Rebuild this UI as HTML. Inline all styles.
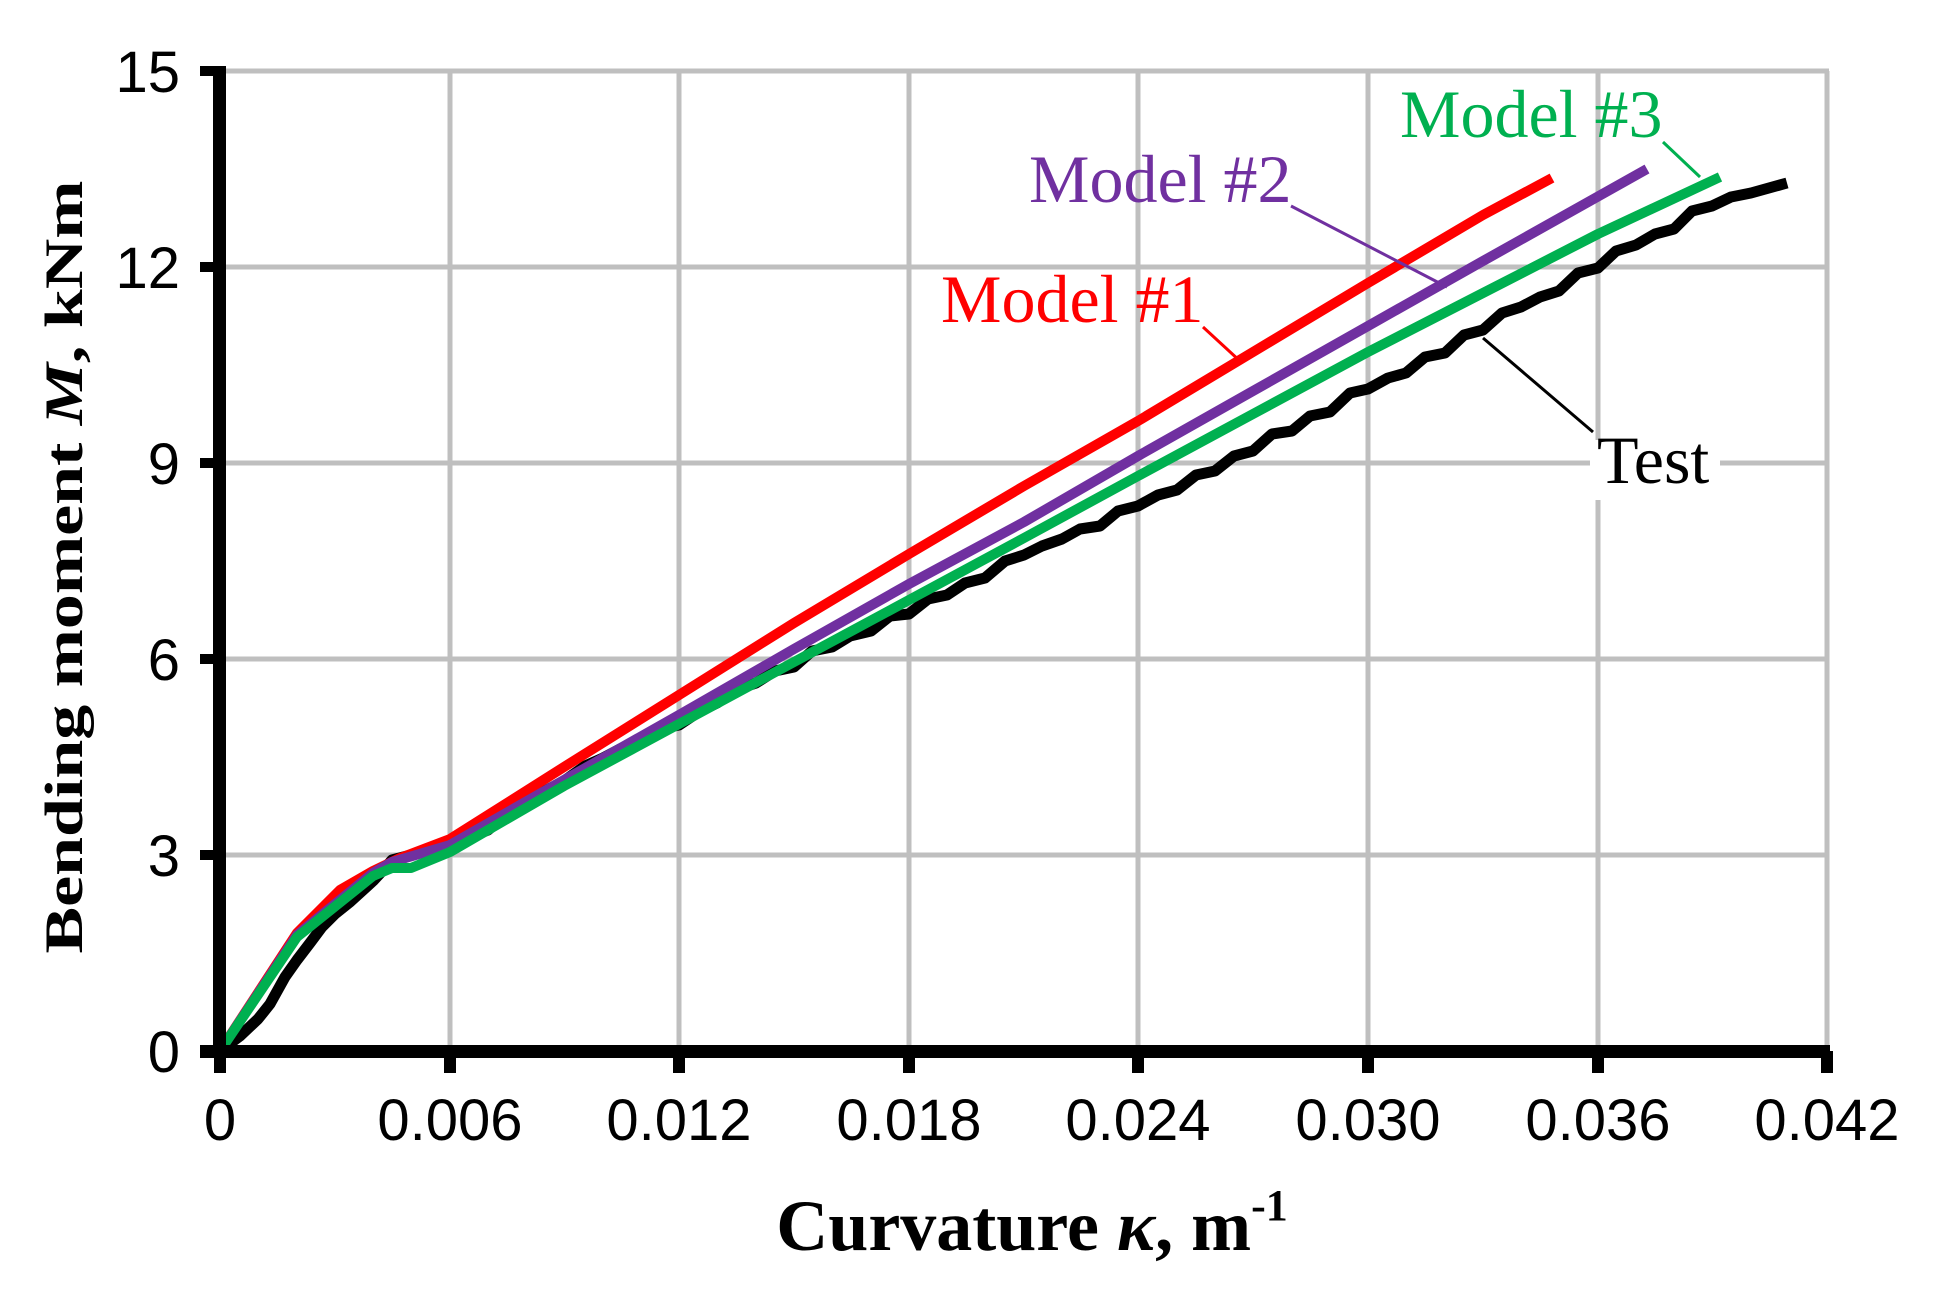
<!DOCTYPE html>
<html><head><meta charset="utf-8"><style>html,body{margin:0;padding:0;background:#fff}</style></head>
<body>
<svg width="1945" height="1289" viewBox="0 0 1945 1289" xmlns="http://www.w3.org/2000/svg">
<rect width="1945" height="1289" fill="#fff"/>
<g stroke="#bfbfbf" stroke-width="5">
<line x1="450" y1="71" x2="450" y2="1051"/><line x1="679" y1="71" x2="679" y2="1051"/>
<line x1="909" y1="71" x2="909" y2="1051"/><line x1="1138" y1="71" x2="1138" y2="1051"/>
<line x1="1368" y1="71" x2="1368" y2="1051"/><line x1="1598" y1="71" x2="1598" y2="1051"/>
<line x1="1827" y1="71" x2="1827" y2="1051"/>
<line x1="220" y1="71" x2="1829" y2="71"/><line x1="220" y1="267" x2="1829" y2="267"/>
<line x1="220" y1="463" x2="1829" y2="463"/><line x1="220" y1="659" x2="1829" y2="659"/>
<line x1="220" y1="855" x2="1829" y2="855"/>
</g>
<rect x="1590" y="440" width="130" height="60" fill="#fff"/>
<g fill="none" stroke-linejoin="round" stroke-linecap="butt">
<polyline stroke="#000" stroke-width="11" points="220,1051 240,1036 258,1019 270,1004 285,977 297,960 310,943 322,927 335,914 350,902 373,881 385,868 392,860 411,855 430,851 450,848 468,838 488,830 505,816 526,804 545,791 564,781 585,766 603,758 620,749 641,742 660,729 679,725 700,711 717,703 738,689 756,683 775,671 794,667 812,651 832,647 850,636 871,631 890,616 909,614 928,599 947,595 965,583 985,578 1005,561 1024,555 1042,546 1062,539 1080,529 1100,526 1118,511 1138,506 1158,495 1177,490 1196,475 1215,471 1234,456 1253,451 1272,434 1292,431 1310,416 1330,412 1350,393 1368,389 1388,378 1406,373 1425,357 1445,353 1464,335 1483,330 1502,313 1521,307 1540,297 1559,291 1578,273 1598,268 1616,251 1636,245 1655,234 1674,229 1692,211 1712,206 1731,197 1751,193 1787,183"/>
<polyline stroke="#ff0000" stroke-width="10" points="220,1051 297,933 340,890 373,871 400,858 450,839 564,767 679,695 794,623 909,554 1024,486 1138,421 1253,352 1368,283 1483,215 1552,178"/>
<polyline stroke="#7030a0" stroke-width="10" points="220,1051 297,935 373,873 392,862 450,845 564,780 679,715 794,649 909,584 1024,522 1138,456 1253,391 1368,326 1483,261 1647,169"/>
<polyline stroke="#00b050" stroke-width="10" points="220,1051 297,937 373,876 392,868 411,868 450,852 564,786 679,724 794,662 909,600 1024,538 1138,476 1253,414 1368,352 1483,293 1598,234 1720,177"/>
<line x1="1203" y1="327" x2="1241" y2="362" stroke="#ff0000" stroke-width="3"/>
<line x1="1291" y1="206" x2="1447" y2="287" stroke="#7030a0" stroke-width="3"/>
<line x1="1663" y1="142" x2="1700" y2="177" stroke="#00b050" stroke-width="3"/>
<line x1="1483" y1="338" x2="1593" y2="432" stroke="#000" stroke-width="3"/>
</g>
<g fill="#000">
<rect x="213" y="66" width="13" height="992"/>
<rect x="200" y="1045" width="1630" height="13"/>
<rect x="200" y="66" width="20" height="10"/><rect x="200" y="262" width="20" height="10"/>
<rect x="200" y="458" width="20" height="10"/><rect x="200" y="654" width="20" height="10"/>
<rect x="200" y="850" width="20" height="10"/>
<rect x="444" y="1051" width="12" height="22"/><rect x="673" y="1051" width="12" height="22"/>
<rect x="903" y="1051" width="12" height="22"/><rect x="1132" y="1051" width="12" height="22"/>
<rect x="1362" y="1051" width="12" height="22"/><rect x="1592" y="1051" width="12" height="22"/>
<rect x="1821" y="1051" width="12" height="22"/><rect x="214" y="1051" width="12" height="22"/>
</g>
<g font-family="Liberation Sans, sans-serif" font-size="58" fill="#000" text-anchor="end">
<text x="180" y="92">15</text><text x="180" y="288">12</text><text x="180" y="484">9</text>
<text x="180" y="680">6</text><text x="180" y="876">3</text><text x="180" y="1072">0</text>
</g>
<g font-family="Liberation Sans, sans-serif" font-size="58" fill="#000" text-anchor="middle">
<text x="220" y="1140">0</text><text x="450" y="1140">0.006</text><text x="679" y="1140">0.012</text>
<text x="909" y="1140">0.018</text><text x="1138" y="1140">0.024</text><text x="1368" y="1140">0.030</text>
<text x="1598" y="1140">0.036</text><text x="1827" y="1140">0.042</text>
</g>
<g font-family="Liberation Serif, serif" font-size="68">
<text x="941" y="322" fill="#ff0000">Model #1</text>
<text x="1029" y="202" fill="#7030a0">Model #2</text>
<text x="1400" y="137" fill="#00b050">Model #3</text>
<text x="1597" y="483" fill="#000">Test</text>
</g>
<text x="1032" y="1250" text-anchor="middle" font-family="Liberation Serif, serif" font-weight="bold" font-size="72">Curvature <tspan font-style="italic">κ</tspan>, m<tspan font-size="44" dy="-30">-1</tspan></text>
<text transform="translate(82,567) rotate(-90)" text-anchor="middle" font-family="Liberation Serif, serif" font-weight="bold" font-size="54" textLength="773" lengthAdjust="spacingAndGlyphs">Bending moment <tspan font-style="italic">M</tspan>, kNm</text>
</svg>
</body></html>
